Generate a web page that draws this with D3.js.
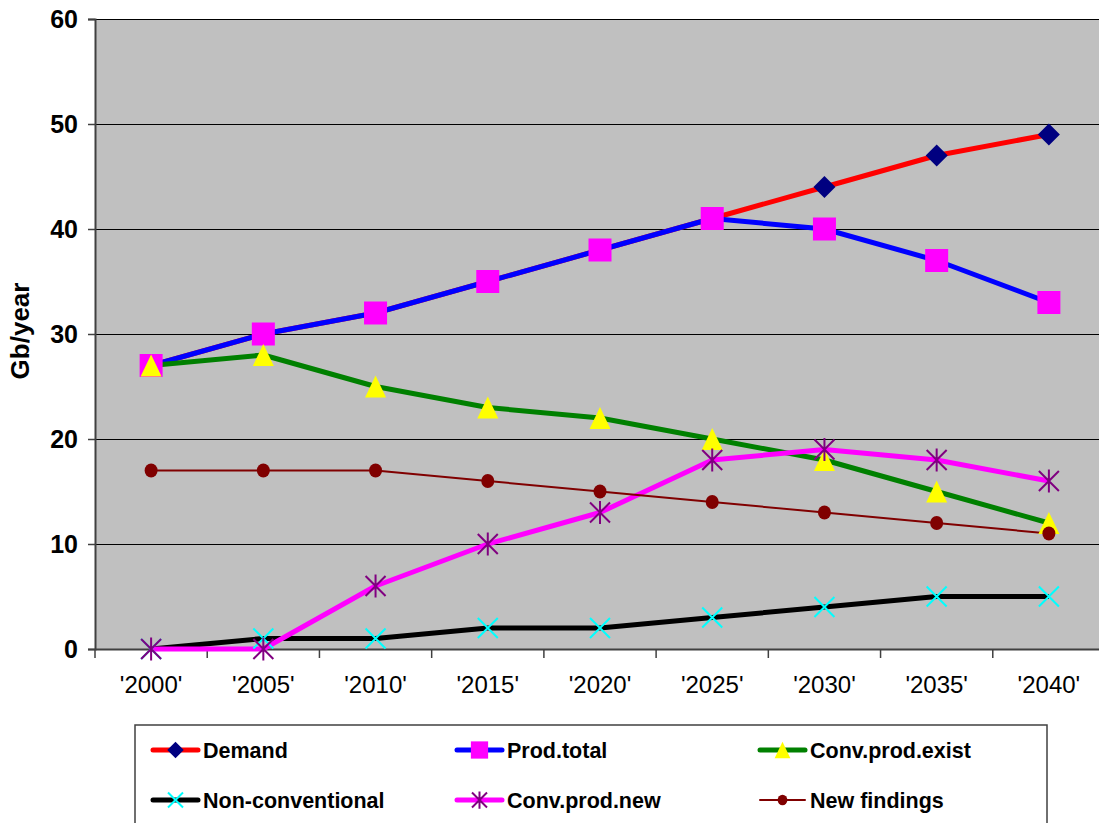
<!DOCTYPE html>
<html><head><meta charset="utf-8">
<script src="https://cdn.jsdelivr.net/npm/d3@7"></script>
<style>body{margin:0;background:#fff;font-family:"Liberation Sans",Arial,sans-serif;}</style>
</head><body>
<svg id="c" width="1099" height="823"></svg>
<script>
const categories = ["'2000'","'2005'","'2010'","'2015'","'2020'","'2025'","'2030'","'2035'","'2040'"];
const demand = [27,30,32,35,38,41,44,47,49];
const prodTotal = [27,30,32,35,38,41,40,37,33];
const convProdExist = [27,28,25,23,22,20,18,15,12];
const nonConventional = [0,1,1,2,2,3,4,5,5];
const convProdNew = [0,0,6,10,13,18,19,18,16];
const newFindings = [17,17,17,16,15,14,13,12,11];
const yTicks = [0,10,20,30,40,50,60];

const series = [
  {name:"Demand", values:demand, line:"#FF0000", lw:5, marker:"diamond", fill:"#000080"},
  {name:"Prod.total", values:prodTotal, line:"#0000FF", lw:5, marker:"square", fill:"#FF00FF"},
  {name:"Conv.prod.exist", values:convProdExist, line:"#008000", lw:5, marker:"triangle", fill:"#FFFF00"},
  {name:"Non-conventional", values:nonConventional, line:"#000000", lw:5, marker:"x", fill:"#00FFFF"},
  {name:"Conv.prod.new", values:convProdNew, line:"#FF00FF", lw:5, marker:"star", fill:"#800080"},
  {name:"New findings", values:newFindings, line:"#800000", lw:2, marker:"circle", fill:"#800000"}
];

const FONT = "Liberation Sans, Arial, sans-serif";
const svg = d3.select("#c");
const L = 95, R = 1105, T = 19, B = 649;
const x = d3.scaleBand().domain(categories).range([L,R]);
const y = d3.scaleLinear().domain([0,60]).range([B,T]);

svg.append("rect").attr("x",L).attr("y",T).attr("width",R-L).attr("height",B-T).attr("fill","#C0C0C0");
svg.append("g").selectAll("line").data(yTicks.filter(d=>d>0)).join("line")
  .attr("x1",L).attr("x2",R).attr("y1",d=>y(d)+0.5).attr("y2",d=>y(d)+0.5).attr("stroke","#000").attr("stroke-width",1);

const yAxis = svg.append("g").attr("transform",`translate(${L},0)`)
  .call(d3.axisLeft(y).tickValues(yTicks).tickSize(7).tickPadding(10));
yAxis.select(".domain").attr("stroke","#404040").attr("stroke-width",2);
yAxis.selectAll(".tick line").attr("stroke","#404040").attr("stroke-width",1.5);
yAxis.selectAll("text").attr("font-family",FONT).style("font-size","25px").attr("font-weight","bold").attr("fill","#000");

const xAxis = svg.append("g").attr("transform",`translate(0,${B})`)
  .call(d3.axisBottom(x).tickSize(0).tickPadding(27));
xAxis.select(".domain").attr("stroke","#404040").attr("stroke-width",2);
xAxis.selectAll("text").attr("font-family",FONT).style("font-size","24px").attr("fill","#000");
svg.append("g").selectAll("line").data(categories).join("line")
  .attr("x1",d=>x(d)).attr("x2",d=>x(d)).attr("y1",B).attr("y2",B+9).attr("stroke","#404040").attr("stroke-width",1.5);

svg.append("text").attr("transform","translate(29,331) rotate(-90)").attr("text-anchor","middle")
  .attr("font-family",FONT).style("font-size","26px").attr("font-weight","bold").text("Gb/year");

const cx = d => x(d) + x.bandwidth()/2;
const lineGen = d3.line().x((v,i)=>cx(categories[i])).y(v=>y(v));

function drawMarker(g, type, fill, px, py, scale){
  const s = scale||1;
  if(type==="diamond"){
    const r=11*s;
    g.append("path").attr("d",`M${px},${py-r}L${px+r},${py}L${px},${py+r}L${px-r},${py}Z`).attr("fill",fill);
  } else if(type==="square"){
    const h=11.5*s;
    g.append("rect").attr("x",px-h).attr("y",py-h).attr("width",2*h).attr("height",2*h).attr("fill",fill);
  } else if(type==="triangle"){
    const w=10.5*s, h=11*s;
    g.append("path").attr("d",`M${px},${py-h}L${px+w},${py+h}L${px-w},${py+h}Z`).attr("fill",fill);
  } else if(type==="x"){
    const r=10*s;
    g.append("path").attr("d",`M${px-r},${py-r}L${px+r},${py+r}M${px-r},${py+r}L${px+r},${py-r}`).attr("stroke",fill).attr("stroke-width",2);
  } else if(type==="star"){
    const r=10*s;
    g.append("path").attr("d",`M${px-r},${py-r}L${px+r},${py+r}M${px-r},${py+r}L${px+r},${py-r}M${px},${py-r*1.15}L${px},${py+r*1.15}`).attr("stroke",fill).attr("stroke-width",2);
  } else if(type==="circle"){
    g.append("ellipse").attr("cx",px).attr("cy",py).attr("rx",6.5*s).attr("ry",7*s).attr("fill",fill);
  }
}

const plot = svg.append("g");
series.forEach(s=>{
  plot.append("path").attr("d",lineGen(s.values)).attr("fill","none").attr("stroke",s.line).attr("stroke-width",s.lw).attr("stroke-linejoin","round");
});
series.forEach(s=>{
  const g = plot.append("g");
  s.values.forEach((v,i)=>drawMarker(g,s.marker,s.fill,cx(categories[i]),y(v)));
});

const leg = svg.append("g");
leg.append("rect").attr("x",135).attr("y",725).attr("width",912).attr("height",110).attr("fill","#fff").attr("stroke","#404040").attr("stroke-width",1.5);
const colX = [153,457,760];
const rowY = [750,800];
series.forEach((s,i)=>{
  const lx = colX[i%3], ly = rowY[Math.floor(i/3)];
  leg.append("line").attr("x1",lx).attr("x2",lx+45).attr("y1",ly).attr("y2",ly).attr("stroke",s.line).attr("stroke-width",s.lw).attr("stroke-linecap","round");
  drawMarker(leg,s.marker,s.fill,lx+22.5,ly,0.75);
  leg.append("text").attr("x",lx+50).attr("y",ly+8).attr("font-family",FONT).style("font-size","21.5px").attr("font-weight","bold").text(s.name);
});
</script>
</body></html>
